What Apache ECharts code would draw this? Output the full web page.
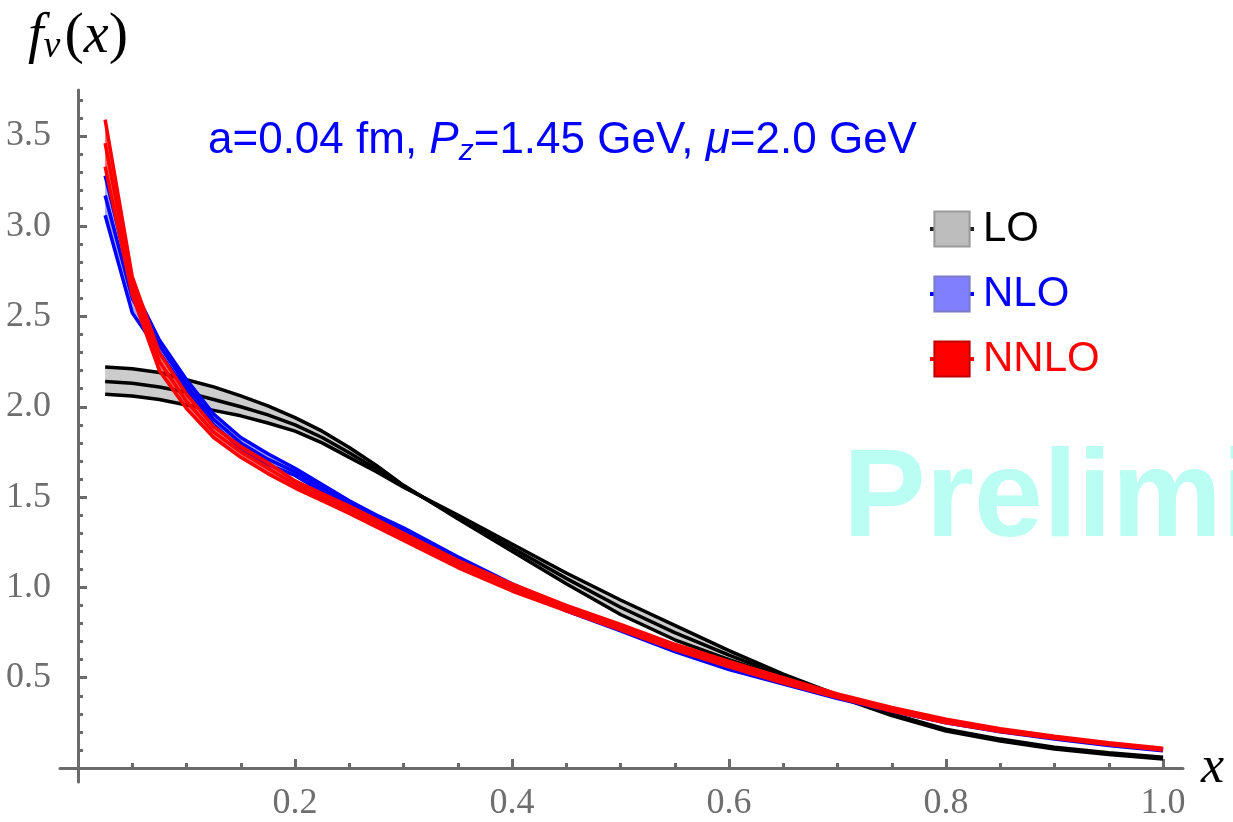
<!DOCTYPE html>
<html>
<head>
<meta charset="utf-8">
<script src="https://cdn.jsdelivr.net/npm/echarts@6/dist/echarts.min.js"></script>
<style>
html,body{margin:0;padding:0;background:#fff;}
#chart{width:1233px;height:822px;}
</style>
</head>
<body>
<div id="chart"></div>
<script>
// ---- data ----
const xs = [0.025,0.05,0.075,0.1,0.125,0.15,0.175,0.2,0.225,0.25,0.275,0.3,0.35,0.4,0.45,0.5,0.55,0.6,0.65,0.7,0.75,0.8,0.85,0.9,0.95,1.0];

const loA = [2.22,2.21,2.19,2.15,2.11,2.06,2.005,1.94,1.865,1.775,1.675,1.565,1.38,1.20,1.02,0.85,0.71,0.60,0.50,0.395,0.29,0.205,0.15,0.105,0.075,0.05];
const loC = [2.14,2.13,2.11,2.08,2.04,2.00,1.955,1.90,1.83,1.745,1.655,1.56,1.39,1.22,1.05,0.89,0.75,0.625,0.51,0.40,0.295,0.21,0.155,0.11,0.08,0.055];
const loB = [2.07,2.06,2.04,2.01,1.98,1.95,1.91,1.865,1.80,1.72,1.64,1.555,1.40,1.24,1.08,0.93,0.79,0.65,0.52,0.405,0.30,0.215,0.16,0.115,0.085,0.06];

const nloHi = [3.28,2.67,2.37,2.15,1.96,1.83,1.74,1.66,1.57,1.48,1.40,1.33,1.17,1.02,0.89,0.78,0.67,0.57,0.485,0.40,0.325,0.26,0.21,0.17,0.135,0.105];
const nloC  = [3.17,2.60,2.34,2.12,1.93,1.80,1.71,1.64,1.55,1.465,1.385,1.31,1.155,1.01,0.88,0.77,0.66,0.56,0.475,0.395,0.32,0.255,0.205,0.165,0.13,0.10];
const nloLo = [3.06,2.52,2.30,2.09,1.90,1.77,1.68,1.62,1.53,1.45,1.37,1.29,1.14,1.00,0.87,0.76,0.645,0.545,0.465,0.385,0.315,0.25,0.20,0.16,0.125,0.095];

const nnloHi = [3.59,2.72,2.30,2.07,1.89,1.78,1.69,1.59,1.52,1.45,1.375,1.30,1.15,1.02,0.90,0.795,0.685,0.59,0.50,0.41,0.335,0.27,0.218,0.176,0.14,0.11];
const nnloC  = [3.46,2.67,2.25,2.03,1.86,1.75,1.66,1.57,1.50,1.43,1.355,1.28,1.13,1.00,0.885,0.78,0.67,0.575,0.485,0.40,0.325,0.26,0.21,0.17,0.135,0.105];
const nnloLo = [3.33,2.62,2.20,1.99,1.83,1.72,1.63,1.55,1.48,1.41,1.335,1.26,1.11,0.98,0.87,0.765,0.655,0.56,0.47,0.39,0.315,0.25,0.202,0.164,0.13,0.10];

const yTickLabels = [0.5,1.0,1.5,2.0,2.5,3.0,3.5];
const yMinorTicks = [0.1,0.2,0.3,0.4,0.6,0.7,0.8,0.9,1.1,1.2,1.3,1.4,1.6,1.7,1.8,1.9,2.1,2.2,2.3,2.4,2.6,2.7,2.8,2.9,3.1,3.2,3.3,3.4,3.6,3.7];
const xTickLabels = [0.2,0.4,0.6,0.8,1.0];
const xMinorTicks = [0.05,0.1,0.15,0.25,0.3,0.35,0.45,0.5,0.55,0.65,0.7,0.75,0.85,0.9,0.95];

const annotation = ['a=0.04 fm, ', 'P', 'z', '=1.45 GeV, ', 'μ', '=2.0 GeV'];
const legendNames = ['LO','NLO','NNLO'];

// ---- chart ----
const chart = echarts.init(document.getElementById('chart'), null, {renderer:'canvas'});
const axisGray = '#6b6b6b';

function pairs(arr){ return xs.map((x,i)=>[x, arr[i]]); }

function band(name, a, b, c, fill, lineColor, lw, z){
  const rows = xs.map((x,i)=>[x, Math.min(a[i],b[i],c[i]), Math.max(a[i],b[i],c[i])]);
  const common = {type:'line', symbol:'none', smooth:false, silent:true, animation:false};
  return [
    {type:'custom', name:name+'_fill', silent:true, animation:false, z:z,
     data:rows,
     encode:{x:0, y:[1,2]},
     renderItem:function(params, api){
       if (params.dataIndex !== 0) return null;
       const top = rows.map(r=>api.coord([r[0], r[2]]));
       const bot = rows.map(r=>api.coord([r[0], r[1]])).reverse();
       return {type:'polygon', shape:{points:top.concat(bot)}, style:{fill:fill, stroke:null}};
     }},
    Object.assign({}, common, {name:name+'_a', data:pairs(a), lineStyle:{color:lineColor, width:lw}, z:z+1}),
    Object.assign({}, common, {name:name+'_b', data:pairs(b), lineStyle:{color:lineColor, width:lw}, z:z+1}),
    Object.assign({}, common, {name:name, data:pairs(c), symbol:'rect', showSymbol:false, itemStyle:{color:fill}, lineStyle:{color:lineColor, width:lw}, z:z+1})
  ];
}

const series = [].concat(
  band('LO', loA, loB, loC, 'rgba(0,0,0,0.2)', '#000000', 3.5, 2),
  band('NLO', nloHi, nloLo, nloC, 'rgba(0,0,255,0.35)', '#0000ff', 3.5, 4),
  band('NNLO', nnloHi, nnloLo, nnloC, 'rgba(255,0,0,0.6)', '#ff0000', 3.5, 6)
);

const serif = 'Liberation Serif';
const X_MIN = -0.0166, X_MAX = 1.0184, Y_MIN = -0.0775, Y_MAX = 3.754;

const option = {
  backgroundColor:'#ffffff',
  animation:false,
  grid:{left:60, right:50, top:90, bottom:40, containLabel:false, outerBoundsMode:'none'},
  title:{
    text:'{n|'+annotation[0]+'}{i|'+annotation[1]+'}{s|'+annotation[2]+'}{n|'+annotation[3]+'}{i|'+annotation[4]+'}{n|'+annotation[5]+'}',
    left:203, top:110,
    textStyle:{
      fontWeight:'normal',
      rich:{
        n:{fontFamily:'Liberation Sans', fontWeight:'normal', fontSize:44, color:'#0000ff'},
        i:{fontFamily:'Liberation Sans', fontWeight:'normal', fontStyle:'italic', fontSize:44, color:'#0000ff'},
        s:{fontFamily:'Liberation Sans', fontWeight:'normal', fontStyle:'italic', fontSize:30, color:'#0000ff', padding:[22,0,0,0]}
      }
    }
  },
  legend:{
    orient:'vertical', left:923, top:203,
    itemWidth:44, itemHeight:44, itemGap:23,
    selectedMode:false,
    textStyle:{fontFamily:'Liberation Sans', fontSize:42, padding:[0,0,0,4]},
    data:[
      {name:'LO', itemStyle:{color:'#bdbdbd', borderColor:'#9a9a9a', borderWidth:2}, lineStyle:{color:'#222', width:4}, textStyle:{color:'#000'}},
      {name:'NLO', itemStyle:{color:'#8080ff', borderColor:'#7a7ac8', borderWidth:2}, lineStyle:{color:'#0000ff', width:4}, textStyle:{color:'#0000ff'}},
      {name:'NNLO', itemStyle:{color:'#ff0000', borderColor:'#c00000', borderWidth:2}, lineStyle:{color:'#ff0000', width:4}, textStyle:{color:'#ff0000'}}
    ]
  },
  graphic:[
    {type:'text', left:843, top:440, z:0, silent:true,
     style:{text:'Preliminary', fontFamily:'Liberation Sans', fontWeight:'bold', fontSize:124, fill:'rgb(185,253,243)'}}
  ],
  xAxis:[
    {type:'value', min:X_MIN, max:X_MAX, position:'bottom',
     axisLine:{onZero:true, lineStyle:{color:axisGray, width:3}},
     axisTick:{show:true, inside:true, length:9, customValues:xTickLabels, lineStyle:{color:axisGray, width:3}},
     axisLabel:{show:true, customValues:xTickLabels, margin:4, formatter:v=>Number(v).toFixed(1), fontFamily:serif, fontSize:36, color:'#6e6e6e'},
     splitLine:{show:false},
     name:'x', nameLocation:'end', nameGap:18,
     nameTextStyle:{fontFamily:serif, fontStyle:'italic', fontSize:52, color:'#000', verticalAlign:'middle', padding:[0,0,8,0]}
    },
    {type:'value', min:X_MIN, max:X_MAX, position:'bottom',
     axisLine:{show:false, onZero:true},
     axisTick:{show:true, inside:true, length:5, customValues:xMinorTicks, lineStyle:{color:axisGray, width:3}},
     axisLabel:{show:false}, splitLine:{show:false}
    }
  ],
  yAxis:[
    {type:'value', min:Y_MIN, max:Y_MAX, position:'left',
     axisLine:{onZero:true, lineStyle:{color:axisGray, width:3}},
     axisTick:{show:true, inside:true, length:9, customValues:yTickLabels, lineStyle:{color:axisGray, width:3}},
     axisLabel:{show:true, customValues:yTickLabels, margin:9, formatter:v=>Number(v).toFixed(1), fontFamily:serif, fontSize:36, color:'#6e6e6e'},
     splitLine:{show:false},
     name:'{f|f}{v|v}{p|(}{x|x}{p|)}', nameLocation:'end', nameGap:24,
     nameTextStyle:{
       align:'center',
       rich:{
         f:{fontFamily:serif, fontStyle:'italic', fontSize:56, color:'#000'},
         v:{fontFamily:serif, fontStyle:'italic', fontSize:38, color:'#000', padding:[20,4,0,0]},
         p:{fontFamily:serif, fontSize:58, color:'#000'},
         x:{fontFamily:serif, fontStyle:'italic', fontSize:56, color:'#000'}
       }
     }
    },
    {type:'value', min:Y_MIN, max:Y_MAX, position:'left',
     axisLine:{show:false, onZero:true},
     axisTick:{show:true, inside:true, length:5, customValues:yMinorTicks, lineStyle:{color:axisGray, width:3}},
     axisLabel:{show:false}, splitLine:{show:false}
    }
  ],
  series:series
};
chart.setOption(option);
</script>
</body>
</html>
